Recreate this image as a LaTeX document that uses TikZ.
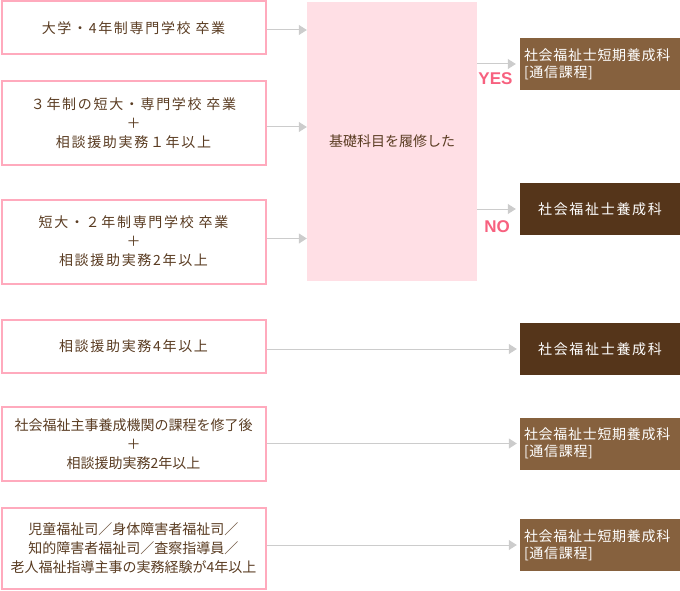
\documentclass[tikz,border=0pt]{standalone}
\usepackage{fontspec}
\usepackage{tikz}
\usetikzlibrary{arrows.meta}
\setmainfont{Noto Sans CJK JP}
\newfontfamily\jpwide{Noto Sans CJK JP}[LetterSpace=12]
\newfontfamily\jpcourse{Noto Sans CJK JP}[LetterSpace=5]
\newfontfamily\yesnofont{Liberation Sans}
\definecolor{pinkline}{HTML}{FFAABD}
\definecolor{basicpink}{HTML}{FFDFE5}
\definecolor{textbrown}{HTML}{5A3C22}
\definecolor{lightbrown}{HTML}{86613E}
\definecolor{darkbrown}{HTML}{55351A}
\definecolor{arrowgray}{HTML}{CCCCCC}
\definecolor{yespink}{HTML}{F7617F}

\begin{document}
\begin{tikzpicture}[x=1pt, y=-1pt,
	every node/.style={font=\fontsize{14}{19}\selectfont, text=textbrown, inner sep=0pt},
	cond/.style={rectangle, draw=pinkline, line width=2pt, fill=white, minimum width=264pt, align=center},
	wide/.style={font={\jpwide\fontsize{14}{19}\selectfont}},
	course/.style={rectangle, fill=lightbrown, text=white, minimum width=160pt, minimum height=52pt, font={\jpcourse\fontsize{14}{17}\selectfont}},
	shortcourse/.style={course, text width=152pt, inner xsep=4pt, align=left},
	longcourse/.style={course, fill=darkbrown, align=center, font={\jpwide\fontsize{14}{17}\selectfont}},
	answer/.style={text=yespink, font={\yesnofont\bfseries\fontsize{17}{17}\selectfont}},
	flow/.style={draw=arrowgray, line width=1pt, -{Triangle[length=8pt, width=10pt]}}]
			\useasboundingbox (0,0) rectangle (680,591);
			\node[cond, wide, minimum height=53pt] (univ) at (133.5,28){大学・4年制専門学校 卒業};
			\node[cond, wide, minimum height=84pt] (junior3) at (133.5,123){３年制の短大・専門学校 卒業\\＋\\相談援助実務１年以上};
			\node[cond, wide, minimum height=84pt] (junior2) at (133.5,241.5){短大・２年制専門学校 卒業\\＋\\相談援助実務2年以上};
			\node[cond, wide, minimum height=53pt] (work4) at (133.5,346.5){相談援助実務4年以上};
			\node[cond, minimum height=74pt] (shuji) at (133.5,444){社会福祉主事養成機関の課程を修了後\\＋\\相談援助実務2年以上};
			\node[cond, minimum height=81pt] (fukushishi) at (133.5,548.5){児童福祉司／身体障害者福祉司／\\知的障害者福祉司／査察指導員／\\老人福祉指導主事の実務経験が4年以上};
			
			\node[rectangle, fill=basicpink, minimum width=170pt, minimum height=279pt] (basic) at (392,141.5){基礎科目を履修した};
			
			\node[shortcourse] (yescourse) at (600,64){社会福祉士短期養成科\\\relax[通信課程]};
			\node[longcourse] (nocourse) at (600,209){社会福祉士養成科};
			\node[longcourse] (work4course) at (600,349){社会福祉士養成科};
			\node[shortcourse] (shujicourse) at (600,443.5){社会福祉士短期養成科\\\relax[通信課程]};
			\node[shortcourse] (fukushishicourse) at (600,545){社会福祉士短期養成科\\\relax[通信課程]};
			
			\node[answer] (yes) at (495.5,79){YES};
			\node[answer] (no) at (497,226.5){NO};
			
			\path ([yshift=-2pt]univ.east) edge[flow] ([yshift=-2pt]univ.east -| basic.west);
			\path ([yshift=-4pt]junior3.east) edge[flow] ([yshift=-4pt]junior3.east -| basic.west);
			\path ([yshift=3pt]junior2.east) edge[flow] ([yshift=3pt]junior2.east -| basic.west);
			\path (basic.east |- yescourse.west) edge[flow] ([xshift=-4pt]yescourse.west);
			\path (basic.east |- nocourse.west) edge[flow] ([xshift=-4pt]nocourse.west);
			\path (work4.east |- work4course.west) edge[flow] ([xshift=-3pt]work4course.west);
			\path (shuji.east |- shujicourse.west) edge[flow] ([xshift=-3pt]shujicourse.west);
			\path (fukushishi.east |- fukushishicourse.west) edge[flow] ([xshift=-3pt]fukushishicourse.west);
			\end{tikzpicture}
\end{document}
